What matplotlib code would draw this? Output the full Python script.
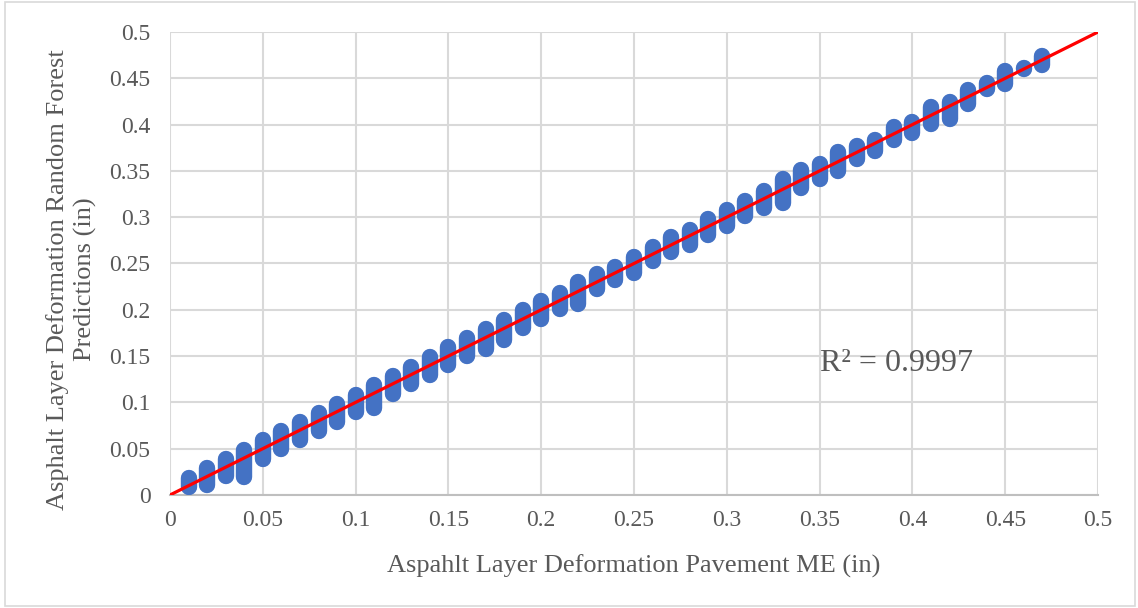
import matplotlib.pyplot as plt
from matplotlib.patches import Rectangle

# Pavement ME values (x) and the spread of Random Forest predictions at each one
pavement_me = [0.01, 0.02, 0.03, 0.04, 0.05, 0.06, 0.07, 0.08, 0.09, 0.10,
               0.11, 0.12, 0.13, 0.14, 0.15, 0.16, 0.17, 0.18, 0.19, 0.20,
               0.21, 0.22, 0.23, 0.24, 0.25, 0.26, 0.27, 0.28, 0.29, 0.30,
               0.31, 0.32, 0.33, 0.34, 0.35, 0.36, 0.37, 0.38, 0.39, 0.40,
               0.41, 0.42, 0.43, 0.44, 0.45, 0.46, 0.47]
rf_low = [0.009, 0.011, 0.021, 0.019, 0.039, 0.050, 0.059, 0.069, 0.079, 0.090,
          0.094, 0.109, 0.120, 0.130, 0.140, 0.150, 0.158, 0.167, 0.180, 0.190,
          0.201, 0.206, 0.222, 0.232, 0.240, 0.253, 0.262, 0.270, 0.281, 0.291,
          0.301, 0.310, 0.315, 0.332, 0.341, 0.350, 0.363, 0.371, 0.383, 0.391,
          0.401, 0.406, 0.422, 0.438, 0.444, 0.460, 0.464]
rf_high = [0.018, 0.029, 0.039, 0.049, 0.059, 0.069, 0.079, 0.089, 0.098, 0.108,
           0.119, 0.128, 0.138, 0.149, 0.160, 0.170, 0.179, 0.189, 0.200, 0.209,
           0.218, 0.230, 0.239, 0.246, 0.257, 0.268, 0.279, 0.286, 0.298, 0.308,
           0.318, 0.328, 0.341, 0.351, 0.357, 0.370, 0.377, 0.383, 0.397, 0.403,
           0.419, 0.424, 0.437, 0.445, 0.458, 0.461, 0.474]

fit_x = [0, 0.5]
fit_y = [0, 0.5]
ticks = [0, 0.05, 0.1, 0.15, 0.2, 0.25, 0.3, 0.35, 0.4, 0.45, 0.5]
tick_labels = ['0', '0.05', '0.1', '0.15', '0.2', '0.25', '0.3', '0.35', '0.4', '0.45', '0.5']
r2_text = 'R² = 0.9997'

plt.rcParams['font.family'] = ['Liberation Serif', 'DejaVu Serif']
text_color = '#595959'

fig = plt.figure(figsize=(11.38, 6.08), dpi=100)
ax = fig.add_axes([0.1494, 0.1859, 0.8155, 0.7615])

# Chart border
fig.patches.append(Rectangle((0.004, 0.004), 0.993, 0.992, transform=fig.transFigure,
                             fill=False, edgecolor='#d9d9d9', linewidth=1.2))

# Stacked scatter points appear as vertical streaks
streaks = ax.vlines(pavement_me, rf_low, rf_high, colors='#4472C4', linewidth=11.8, zorder=3)
streaks.set_capstyle('round')

ax.plot(fit_x, fit_y, color='#ff0000', linewidth=2.3, zorder=4)

ax.text(0.35, 0.1425, r2_text, fontsize=23, color=text_color, va='center', ha='left')

ax.set_xlim(0, 0.5)
ax.set_ylim(0, 0.5)
ax.set_xticks(ticks)
ax.set_xticklabels(tick_labels)
ax.set_yticks(ticks)
ax.set_yticklabels(tick_labels)
ax.tick_params(axis='both', length=0, labelsize=17, labelcolor=text_color)
ax.tick_params(axis='x', pad=11)
ax.tick_params(axis='y', pad=14)

ax.grid(True, color='#d9d9d9', linewidth=1.5)
ax.set_axisbelow(True)
for side in ['top', 'right', 'left']:
    ax.spines[side].set_visible(False)
ax.spines['bottom'].set_color('#bfbfbf')
ax.spines['bottom'].set_linewidth(1.5)

ax.set_xlabel('Aspahlt Layer Deformation Pavement ME (in)', fontsize=19, color=text_color)
ax.set_ylabel('Asphalt Layer Deformation Random Forest\nPredictions (in)', fontsize=19,
              color=text_color, linespacing=1.25)
ax.xaxis.set_label_coords(0.5, -0.128)
ax.yaxis.set_label_coords(-0.079, 0.466)

fig.savefig('out.png', dpi=100)
